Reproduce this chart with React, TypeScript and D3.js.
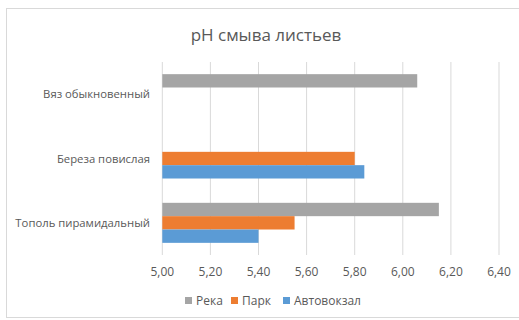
import React from "react";
import * as d3 from "d3";

const categories = ["Вяз обыкновенный", "Береза повислая", "Тополь пирамидальный"];
const seriesNames = ["Река", "Парк", "Автовокзал"];
const colors = ["#a5a5a5", "#ed7d31", "#5b9bd5"];
// values per series, in category order (null = no bar)
const reka = [6.06, null, 6.15];
const park = [null, 5.8, 5.55];
const avtovokzal = [null, 5.84, 5.4];
const ticks = [5.0, 5.2, 5.4, 5.6, 5.8, 6.0, 6.2, 6.4];

const seriesValues = [reka, park, avtovokzal];

export default function App() {
  const width = 519;
  const height = 320;
  const plot = { left: 162.3, right: 499, top: 62, bottom: 255 };
  const font = "'Open Sans', sans-serif";
  const textColor = "#595959";

  const x = d3.scaleLinear().domain([5.0, 6.4]).range([plot.left, plot.right]);
  const y = d3
    .scaleBand<string>()
    .domain(categories)
    .range([plot.top, plot.bottom])
    .paddingInner(0.378)
    .paddingOuter(0.189);
  const inner = d3
    .scaleBand<string>()
    .domain(seriesNames)
    .range([0, y.bandwidth()]);

  const fmt = (v: number) => v.toFixed(2).replace(".", ",");

  const legendX = [185, 231, 283];

  return (
    <svg
      width={width}
      height={height}
      style={{ position: "absolute", left: 0, top: 0, background: "#fff" }}
    >
      <rect x={6.5} y={8.5} width={530} height={309} fill="#fff" stroke="#d9d9d9" />
      <text
        x={266}
        y={41}
        textAnchor="middle"
        fontFamily={font}
        fontSize={17}
        fill={textColor}
      >
        pH смыва листьев
      </text>

      {ticks.map((t) => (
        <g key={t}>
          <line
            x1={x(t)}
            x2={x(t)}
            y1={plot.top}
            y2={plot.bottom}
            stroke="#d9d9d9"
            strokeWidth={1}
          />
          <text
            x={x(t)}
            y={276}
            textAnchor="middle"
            fontFamily={font}
            fontSize={12}
            fill={textColor}
          >
            {fmt(t)}
          </text>
        </g>
      ))}

      {seriesValues.map((vals, si) =>
        vals.map((v, ci) =>
          v == null ? null : (
            <rect
              key={`${si}-${ci}`}
              x={x(5.0)}
              y={(y(categories[ci]) ?? 0) + (inner(seriesNames[si]) ?? 0)}
              width={x(v) - x(5.0)}
              height={inner.bandwidth()}
              fill={colors[si]}
            />
          )
        )
      )}

      {categories.map((c) => (
        <text
          key={c}
          x={150}
          y={(y(c) ?? 0) + y.bandwidth() / 2 + 4}
          textAnchor="end"
          fontFamily={font}
          fontSize={11.3}
          fill={textColor}
        >
          {c}
        </text>
      ))}

      {seriesNames.map((s, i) => (
        <g key={s}>
          <rect x={legendX[i]} y={297} width={7} height={7} fill={colors[i]} />
          <text
            x={legendX[i] + 11}
            y={305}
            fontFamily={font}
            fontSize={12}
            fill={textColor}
          >
            {s}
          </text>
        </g>
      ))}
    </svg>
  );
}
